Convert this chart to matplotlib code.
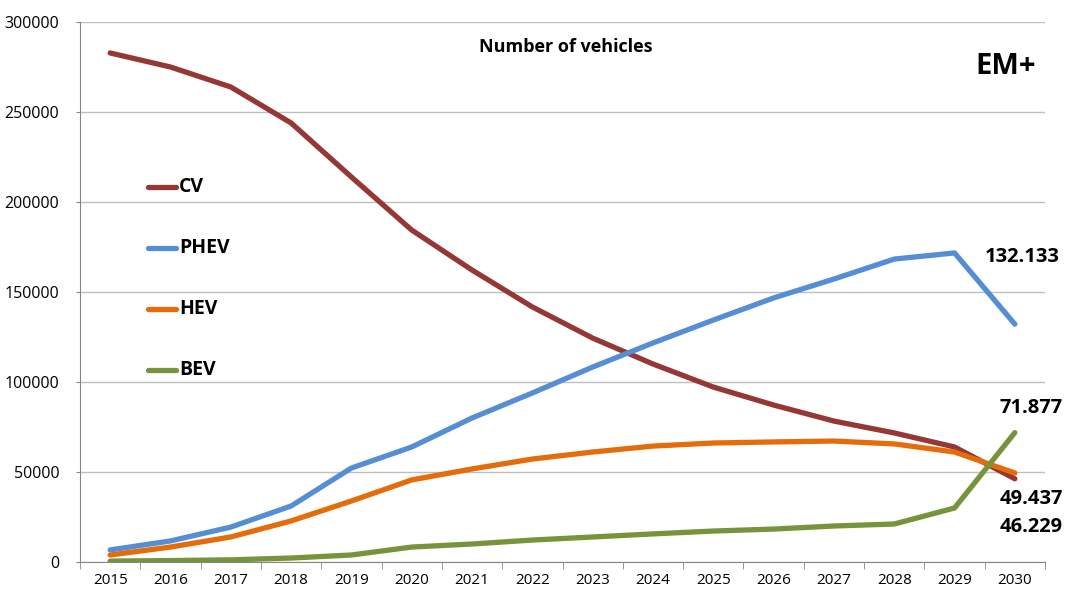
import matplotlib
matplotlib.use("Agg")
import matplotlib.pyplot as plt
from matplotlib.lines import Line2D

plt.rcParams['font.family'] = ['Open Sans', 'DejaVu Sans']

years = [2015, 2016, 2017, 2018, 2019, 2020, 2021, 2022, 2023, 2024, 2025, 2026, 2027, 2028, 2029, 2030]
cv = [282800, 275000, 263900, 243900, 213900, 184400, 162200, 141700, 124400, 110000, 97200, 87200, 78300, 71700, 63900, 46229]
phev = [6700, 11700, 19400, 31100, 52200, 63900, 80000, 93900, 108300, 121700, 134400, 146700, 157200, 168300, 171700, 132133]
hev = [3900, 8300, 13900, 22800, 33900, 45600, 51700, 57200, 61100, 64400, 66100, 66700, 67200, 65600, 61100, 49437]
bev = [500, 800, 1200, 2200, 3900, 8300, 10000, 12200, 13900, 15600, 17200, 18300, 20000, 21100, 30000, 71877]

series = [("CV", cv, "#953735"), ("PHEV", phev, "#558ED5"), ("HEV", hev, "#E46C0A"), ("BEV", bev, "#77933C")]
yticks = [0, 50000, 100000, 150000, 200000, 250000, 300000]

fig = plt.figure(figsize=(10.65, 5.9), dpi=100)
ax = fig.add_axes([80/1065, 28/590, 965/1065, 540/590])
x = list(range(len(years)))

for name, vals, col in series:
    ax.plot(x, vals, color=col, lw=3.8, solid_capstyle='round', solid_joinstyle='round', zorder=3)

ax.set_xlim(-0.5, len(years) - 0.5)
ax.set_ylim(0, 300000)
ax.set_yticks(yticks)
ax.set_yticklabels([str(v) for v in yticks], fontsize=11.5)
ax.set_xticks(x)
ax.set_xticklabels([str(y) for y in years], fontsize=11)
ax.set_xticks([i - 0.5 for i in range(len(years) + 1)], minor=True)
ax.tick_params(axis='x', which='major', length=0, pad=8)
ax.tick_params(axis='x', which='minor', length=5, color='#868686')
ax.tick_params(axis='y', length=3, color='#868686', pad=12)
ax.grid(axis='y', color='#BFBFBF', lw=1)
ax.set_axisbelow(True)
for s in ['top', 'right']:
    ax.spines[s].set_visible(False)
for s in ['left', 'bottom']:
    ax.spines[s].set_color('#868686')

fig.text(566/1065, 1 - 47/590, "Number of vehicles", ha='center', va='center', fontsize=13, fontweight='bold')
fig.text(1006/1065, 1 - 66/590, "EM+", ha='center', va='center', fontsize=21, fontweight='bold')

# legend
leg_y = [187, 248, 309, 370]
for (name, vals, col), yy in zip(series, leg_y):
    fig.add_artist(Line2D([148/1065, 176/1065], [1 - yy/590, 1 - yy/590], color=col, lw=3.8,
                          solid_capstyle='round', transform=fig.transFigure))
    fig.text(179/1065, 1 - yy/590, name, ha='left', va='center', fontsize=14, fontweight='bold')

def fmt(v):
    return f"{v/1000:.3f}"

ax.annotate(fmt(phev[-1]), (x[-1], phev[-1]), xytext=(1022/1065, 1 - 257/590), textcoords='figure fraction',
            ha='center', va='center', fontsize=14.5, fontweight='bold')
ax.annotate(fmt(bev[-1]), (x[-1], bev[-1]), xytext=(1031/1065, 1 - 408/590), textcoords='figure fraction',
            ha='center', va='center', fontsize=14.5, fontweight='bold')
ax.annotate(fmt(hev[-1]), (x[-1], hev[-1]), xytext=(1031/1065, 1 - 499/590), textcoords='figure fraction',
            ha='center', va='center', fontsize=14.5, fontweight='bold')
ax.annotate(fmt(cv[-1]), (x[-1], cv[-1]), xytext=(1031/1065, 1 - 527/590), textcoords='figure fraction',
            ha='center', va='center', fontsize=14.5, fontweight='bold')

fig.savefig("out.png", dpi=100)
